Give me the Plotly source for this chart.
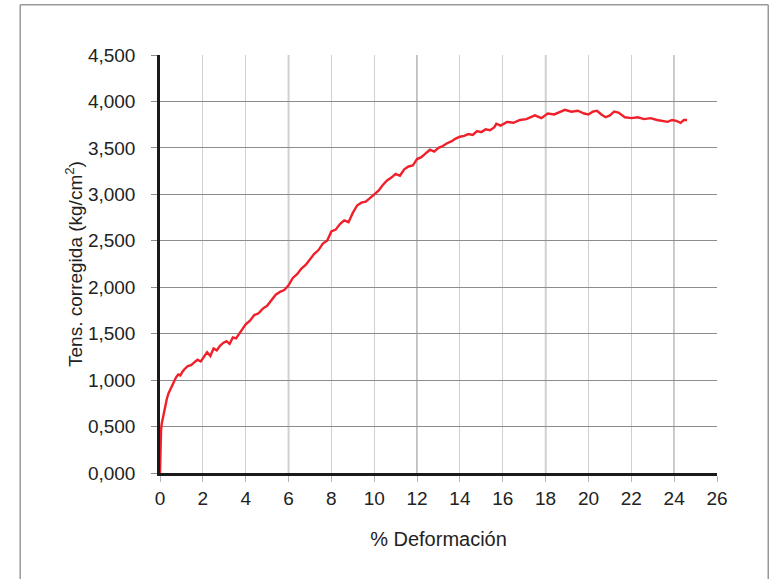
import plotly.graph_objects as go

# % deformación vs tensión corregida
deformacion = [0.0, 0.02, 0.05, 0.08, 0.12, 0.18, 0.25, 0.32, 0.4, 0.48, 0.56, 0.65, 0.75, 0.85,
               0.95, 1.05, 1.15, 1.3, 1.45, 1.6, 1.75, 1.9, 2.05, 2.2, 2.35, 2.5, 2.65, 2.8,
               2.95, 3.1, 3.25, 3.4, 3.55, 3.7, 3.85, 4.0, 4.2, 4.4, 4.6, 4.8, 5.0, 5.2,
               5.4, 5.6, 5.8, 6.0, 6.2, 6.4, 6.6, 6.8, 7.0, 7.2, 7.4, 7.6, 7.8, 8.0,
               8.2, 8.4, 8.6, 8.8, 9.0, 9.2, 9.4, 9.6, 9.8, 10.0, 10.2, 10.4, 10.6, 10.8,
               11.0, 11.2, 11.4, 11.6, 11.8, 12.0, 12.2, 12.4, 12.6, 12.8, 13.0, 13.2, 13.4,
               13.6, 13.8, 14.0, 14.2, 14.4, 14.6, 14.8, 15.0, 15.2, 15.4, 15.6, 15.7, 15.9,
               16.2, 16.5, 16.8, 17.1, 17.3, 17.5, 17.8, 18.1, 18.4, 18.7, 18.9, 19.2, 19.5,
               19.8, 20.0, 20.2, 20.4, 20.6, 20.8, 21.0, 21.2, 21.4, 21.7, 22.0, 22.3, 22.6,
               22.9, 23.2, 23.5, 23.7, 23.9, 24.1, 24.3, 24.45, 24.6]
tension = [0.0, 0.33, 0.46, 0.53, 0.58, 0.66, 0.74, 0.8, 0.86, 0.9, 0.94, 0.98, 1.03, 1.06,
           1.05, 1.09, 1.12, 1.15, 1.16, 1.19, 1.22, 1.2, 1.25, 1.3, 1.26, 1.34, 1.32, 1.37,
           1.4, 1.42, 1.39, 1.46, 1.45, 1.5, 1.55, 1.6, 1.64, 1.7, 1.72, 1.77, 1.8, 1.86,
           1.92, 1.95, 1.97, 2.02, 2.1, 2.14, 2.2, 2.24, 2.3, 2.36, 2.4, 2.47, 2.5, 2.6,
           2.62, 2.68, 2.72, 2.7, 2.8, 2.88, 2.91, 2.92, 2.96, 3.0, 3.04, 3.1, 3.15, 3.18,
           3.22, 3.2, 3.27, 3.3, 3.31, 3.38, 3.4, 3.44, 3.48, 3.46, 3.5, 3.52, 3.55, 3.57,
           3.6, 3.62, 3.63, 3.65, 3.64, 3.68, 3.67, 3.7, 3.69, 3.72, 3.76, 3.74,
           3.78, 3.77, 3.8, 3.81, 3.83, 3.85, 3.82, 3.87, 3.86, 3.89, 3.91, 3.89, 3.9,
           3.87, 3.86, 3.89, 3.9, 3.86, 3.83, 3.85, 3.89, 3.88, 3.83, 3.82, 3.83, 3.81,
           3.82, 3.8, 3.79, 3.78, 3.8, 3.79, 3.77, 3.8, 3.8]

ytick_vals = [0, 0.5, 1, 1.5, 2, 2.5, 3, 3.5, 4, 4.5]
ytick_text = ["0,000", "0,500", "1,000", "1,500", "2,000", "2,500", "3,000", "3,500", "4,000", "4,500"]
xtick_vals = list(range(0, 27, 2))
xgrid_oscura = [6, 12, 18, 24]

fig = go.Figure()
fig.add_trace(go.Scatter(x=deformacion, y=tension, mode="lines",
                         line=dict(color="#f0202a", width=2.4), showlegend=False))

fig.update_xaxes(range=[0, 26], tickvals=xtick_vals, showgrid=True, gridcolor="#d0d0d0",
                 gridwidth=1.3, showline=True, linecolor="#1a1a1a", linewidth=2.5,
                 ticks="outside", ticklen=6, tickcolor="#b4b4b4", zeroline=False,
                 ticklabelstandoff=0,
                 title=dict(text="% Deformación", standoff=25,
                            font=dict(size=20, color="#222")),
                 tickfont=dict(size=19, color="#222"))
fig.update_yaxes(range=[0, 4.5], tickvals=ytick_vals, ticktext=ytick_text, showgrid=True,
                 gridcolor="#8c8c8c", gridwidth=1.1, showline=True, linecolor="#1a1a1a",
                 linewidth=2.5, ticks="outside", ticklen=6, tickcolor="#8c8c8c",
                 zeroline=False, ticklabelstandoff=12,
                 title=dict(text="Tens. corregida (kg/cm<sup>2</sup>)", standoff=1,
                            font=dict(size=19, color="#222")),
                 tickfont=dict(size=19, color="#222"))

# líneas de rejilla más oscuras
for xv in xgrid_oscura:
    fig.add_shape(type="line", xref="x", yref="paper", x0=xv, x1=xv, y0=0, y1=1,
                  line=dict(color="#a2a2a2", width=1.5), layer="below")

# marco de la figura
fig.add_shape(type="line", xref="paper", yref="paper", x0=-0.251, x1=1.092, y0=1.12, y1=1.12,
              line=dict(color="#999", width=1.5))
fig.add_shape(type="line", xref="paper", yref="paper", x0=-0.251, x1=-0.251, y0=1.12, y1=-0.3,
              line=dict(color="#999", width=1.5))
fig.add_shape(type="line", xref="paper", yref="paper", x0=1.092, x1=1.092, y0=1.12, y1=-0.3,
              line=dict(color="#999", width=1.5))

fig.update_layout(width=773, height=579, margin=dict(l=160, r=56, t=55, b=106),
                  plot_bgcolor="white", paper_bgcolor="white",
                  font=dict(family="Liberation Sans, Arial, sans-serif"))

fig.write_html("out.html", config={"displayModeBar": False},
               post_script="document.body.style.margin='0';")
